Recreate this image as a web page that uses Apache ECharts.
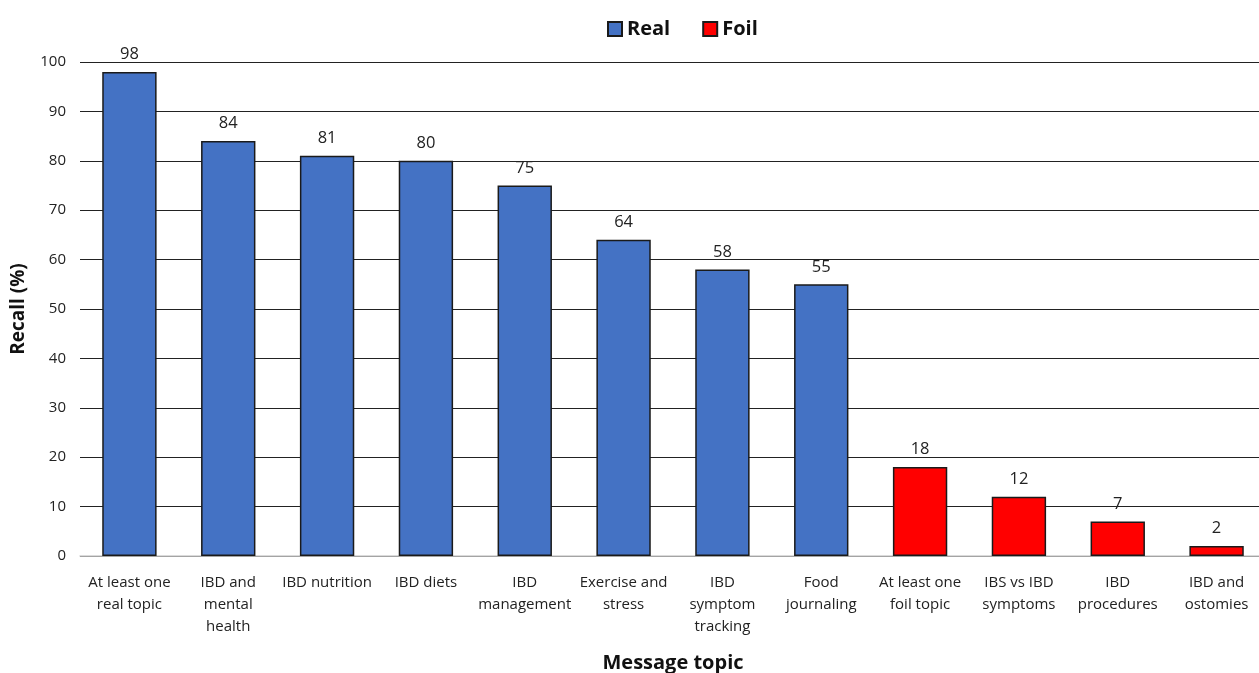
<!DOCTYPE html>
<html><head><meta charset="utf-8">
<script src="https://cdn.jsdelivr.net/npm/echarts@6/dist/echarts.min.js"></script>
<style>html,body{margin:0;padding:0;background:#fff}#c{width:1259px;height:673px}</style>
</head><body><div id="c"></div>
<script>
const categories = ["At least one\nreal topic","IBD and\nmental\nhealth","IBD nutrition","IBD diets","IBD\nmanagement","Exercise and\nstress","IBD\nsymptom\ntracking","Food\njournaling","At least one\nfoil topic","IBS vs IBD\nsymptoms","IBD\nprocedures","IBD and\nostomies"];
const realValues = [98,84,81,80,75,64,58,55,'-','-','-','-'];
const foilValues = ['-','-','-','-','-','-','-','-',18,12,7,2];
const yTicks = [0,10,20,30,40,50,60,70,80,90,100];
const font = '"Open Sans", "Liberation Sans", sans-serif';
const chart = echarts.init(document.getElementById('c'));
const label = {show:true, position:'top', color:'#222', fontSize:16.5, fontFamily:font, distance:9};
chart.setOption({
  animation:false,
  legend:{top:14, left:602, itemWidth:14, itemHeight:14, itemGap:32, icon:'rect',
    textStyle:{fontSize:20, fontWeight:'bold', fontFamily:font, color:'#111'},
    data:['Real','Foil']},
  grid:{left:80, width:1186, top:62, bottom:117, containLabel:false, outerBoundsMode:'none'},
  xAxis:{type:'category', data:categories, name:'Message topic', nameLocation:'middle', nameGap:97,
    nameTextStyle:{fontSize:20, fontWeight:'bold', fontFamily:font, color:'#111'},
    axisLine:{lineStyle:{color:'#d0d0d0', width:1.5}}, axisTick:{show:false},
    axisLabel:{interval:0, fontSize:15, fontFamily:font, color:'#222', lineHeight:22, margin:16}},
  yAxis:{type:'value', min:0, max:100, interval:10, name:'Recall (%)', nameLocation:'middle', nameGap:52,
    nameTextStyle:{fontSize:19, fontWeight:'bold', fontFamily:font, color:'#111'},
    axisLabel:{fontSize:15, fontFamily:font, color:'#222', margin:14, formatter:v=>yTicks.includes(v)?String(v):''},
    axisLine:{show:false}, axisTick:{show:false},
    splitLine:{lineStyle:{color:'#222', width:1}}},
  series:[
    {name:'Real', type:'bar', stack:'s', data:realValues, barWidth:'55%',
     itemStyle:{color:'#4472C4', borderColor:'#1a1a1a', borderWidth:1.5}, label:label},
    {name:'Foil', type:'bar', stack:'s', data:foilValues, barWidth:'55%',
     itemStyle:{color:'#FF0000', borderColor:'#1a1a1a', borderWidth:1.5}, label:label}
  ]
});
</script></body></html>
